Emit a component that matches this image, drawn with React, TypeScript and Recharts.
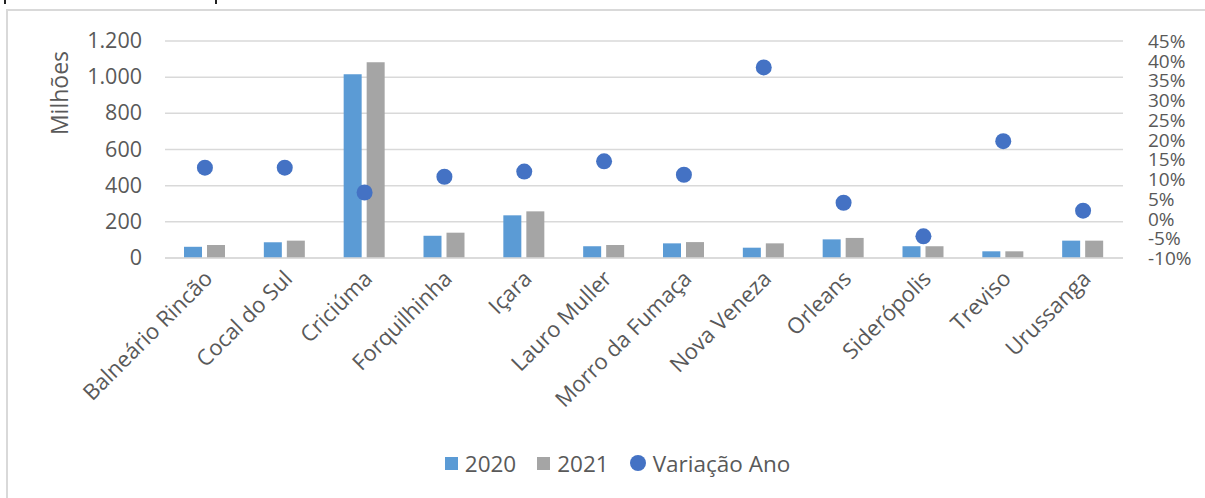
import React from 'react';
import { ComposedChart, Bar, Scatter, XAxis, YAxis, CartesianGrid, Legend } from 'recharts';

const categories = [
  'Balneário Rincão', 'Cocal do Sul', 'Criciúma', 'Forquilhinha', 'Içara', 'Lauro Muller',
  'Morro da Fumaça', 'Nova Veneza', 'Orleans', 'Siderópolis', 'Treviso', 'Urussanga',
];
const values2020 = [62, 87, 1016, 123, 236, 65, 81, 57, 103, 65, 37, 96];
const values2021 = [72, 96, 1082, 140, 258, 72, 88, 81, 111, 65, 37, 96];
const variacaoAno = [12.9, 12.9, 6.6, 10.6, 11.9, 14.5, 11.1, 38.3, 4.0, -4.5, 19.6, 2.0];

const leftTicks = [0, 200, 400, 600, 800, 1000, 1200];
const rightTicks = [-10, -5, 0, 5, 10, 15, 20, 25, 30, 35, 40, 45];

const data = categories.map((name, i) => ({
  name,
  y2020: values2020[i],
  y2021: values2021[i],
  variacao: variacaoAno[i],
}));

const FONT = '"Open Sans", "Liberation Sans", sans-serif';
const TEXT = '#595959';
const BLUE = '#5B9BD5';
const GRAY = '#A5A5A5';
const DOT = '#4472C4';

const fmtThousands = (v: number) => String(v).replace(/\B(?=(\d{3})+(?!\d))/g, '.');

const XTick = (props: any) => {
  const { x, y, payload } = props;
  return (
    <g transform={`translate(${x + 9},${y + 14})`}>
      <text transform="rotate(-45)" textAnchor="end" fill={TEXT} fontSize={22} fontFamily={FONT}>
        {payload.value}
      </text>
    </g>
  );
};

const LeftTick = (props: any) => {
  const { x, y, payload } = props;
  return (
    <text x={x - 15} y={y} dy={7} textAnchor="end" fill={TEXT} fontSize={21.5} fontFamily={FONT}>
      {fmtThousands(payload.value)}
    </text>
  );
};

const RightTick = (props: any) => {
  const { x, y, payload } = props;
  return (
    <text x={x + 17} y={y} dy={7} textAnchor="start" fill={TEXT} fontSize={19} fontFamily={FONT}>
      {`${payload.value}%`}
    </text>
  );
};

const AxisTitle = (props: any) => {
  const { viewBox } = props;
  const cx = viewBox.x + 68;
  const cy = viewBox.y + 52;
  return (
    <text x={cx} y={cy} transform={`rotate(-90, ${cx}, ${cy})`} textAnchor="middle"
      fill={TEXT} fontSize={23} fontFamily={FONT}>
      Milhões
    </text>
  );
};

const Dot = (props: any) => <circle cx={props.cx} cy={props.cy} r={8} fill={DOT} />;

const LegendContent = () => (
  <div style={{ display: 'flex', justifyContent: 'center', alignItems: 'center', height: 50,
    paddingLeft: 30, fontFamily: FONT, fontSize: 22.5, color: TEXT }}>
    <span style={{ display: 'inline-block', width: 13, height: 13, background: BLUE, marginRight: 7 }} />
    <span style={{ marginRight: 21 }}>2020</span>
    <span style={{ display: 'inline-block', width: 13, height: 13, background: GRAY, marginRight: 7 }} />
    <span style={{ marginRight: 21 }}>2021</span>
    <span style={{ display: 'inline-block', width: 16, height: 16, borderRadius: '50%', background: DOT, marginRight: 7 }} />
    <span>Variação Ano</span>
  </div>
);

export default function App() {
  return (
    <div style={{ position: 'absolute', left: 0, top: 0, width: 1205, height: 498, background: '#fff', overflow: 'hidden' }}>
      <div style={{ position: 'absolute', left: 4, top: 0, width: 2, height: 4, background: '#222' }} />
      <div style={{ position: 'absolute', left: 215, top: 0, width: 2, height: 4, background: '#222' }} />
      <div style={{ position: 'absolute', left: 6, top: 9, right: 0, bottom: 0,
        borderTop: '2px solid #D9D9D9', borderLeft: '2px solid #D9D9D9' }} />
      <div style={{ position: 'absolute', left: 0, top: 0 }}>
        <ComposedChart width={1205} height={498} data={data}
          margin={{ top: 41, right: 0, bottom: 10, left: 0 }} barGap={5}>
          <CartesianGrid yAxisId="left" vertical={false} stroke="#D9D9D9" strokeWidth={1.5} />
          <XAxis dataKey="name" height={180} interval={0} tick={<XTick />} tickLine={false}
            axisLine={{ stroke: '#D9D9D9', strokeWidth: 1.5 }} />
          <YAxis yAxisId="left" width={165} domain={[0, 1200]} ticks={leftTicks} tick={<LeftTick />}
            axisLine={false} tickLine={false} label={<AxisTitle />} />
          <YAxis yAxisId="right" orientation="right" width={82} domain={[-10, 45]} ticks={rightTicks}
            tick={<RightTick />} axisLine={false} tickLine={false} interval={0} />
          <Bar yAxisId="left" dataKey="y2020" name="2020" fill={BLUE} barSize={18} isAnimationActive={false} />
          <Bar yAxisId="left" dataKey="y2021" name="2021" fill={GRAY} barSize={18} isAnimationActive={false} />
          <Scatter yAxisId="right" dataKey="variacao" name="Variação Ano" shape={<Dot />} isAnimationActive={false} />
          <Legend verticalAlign="bottom" height={50} content={<LegendContent />} />
        </ComposedChart>
      </div>
    </div>
  );
}
